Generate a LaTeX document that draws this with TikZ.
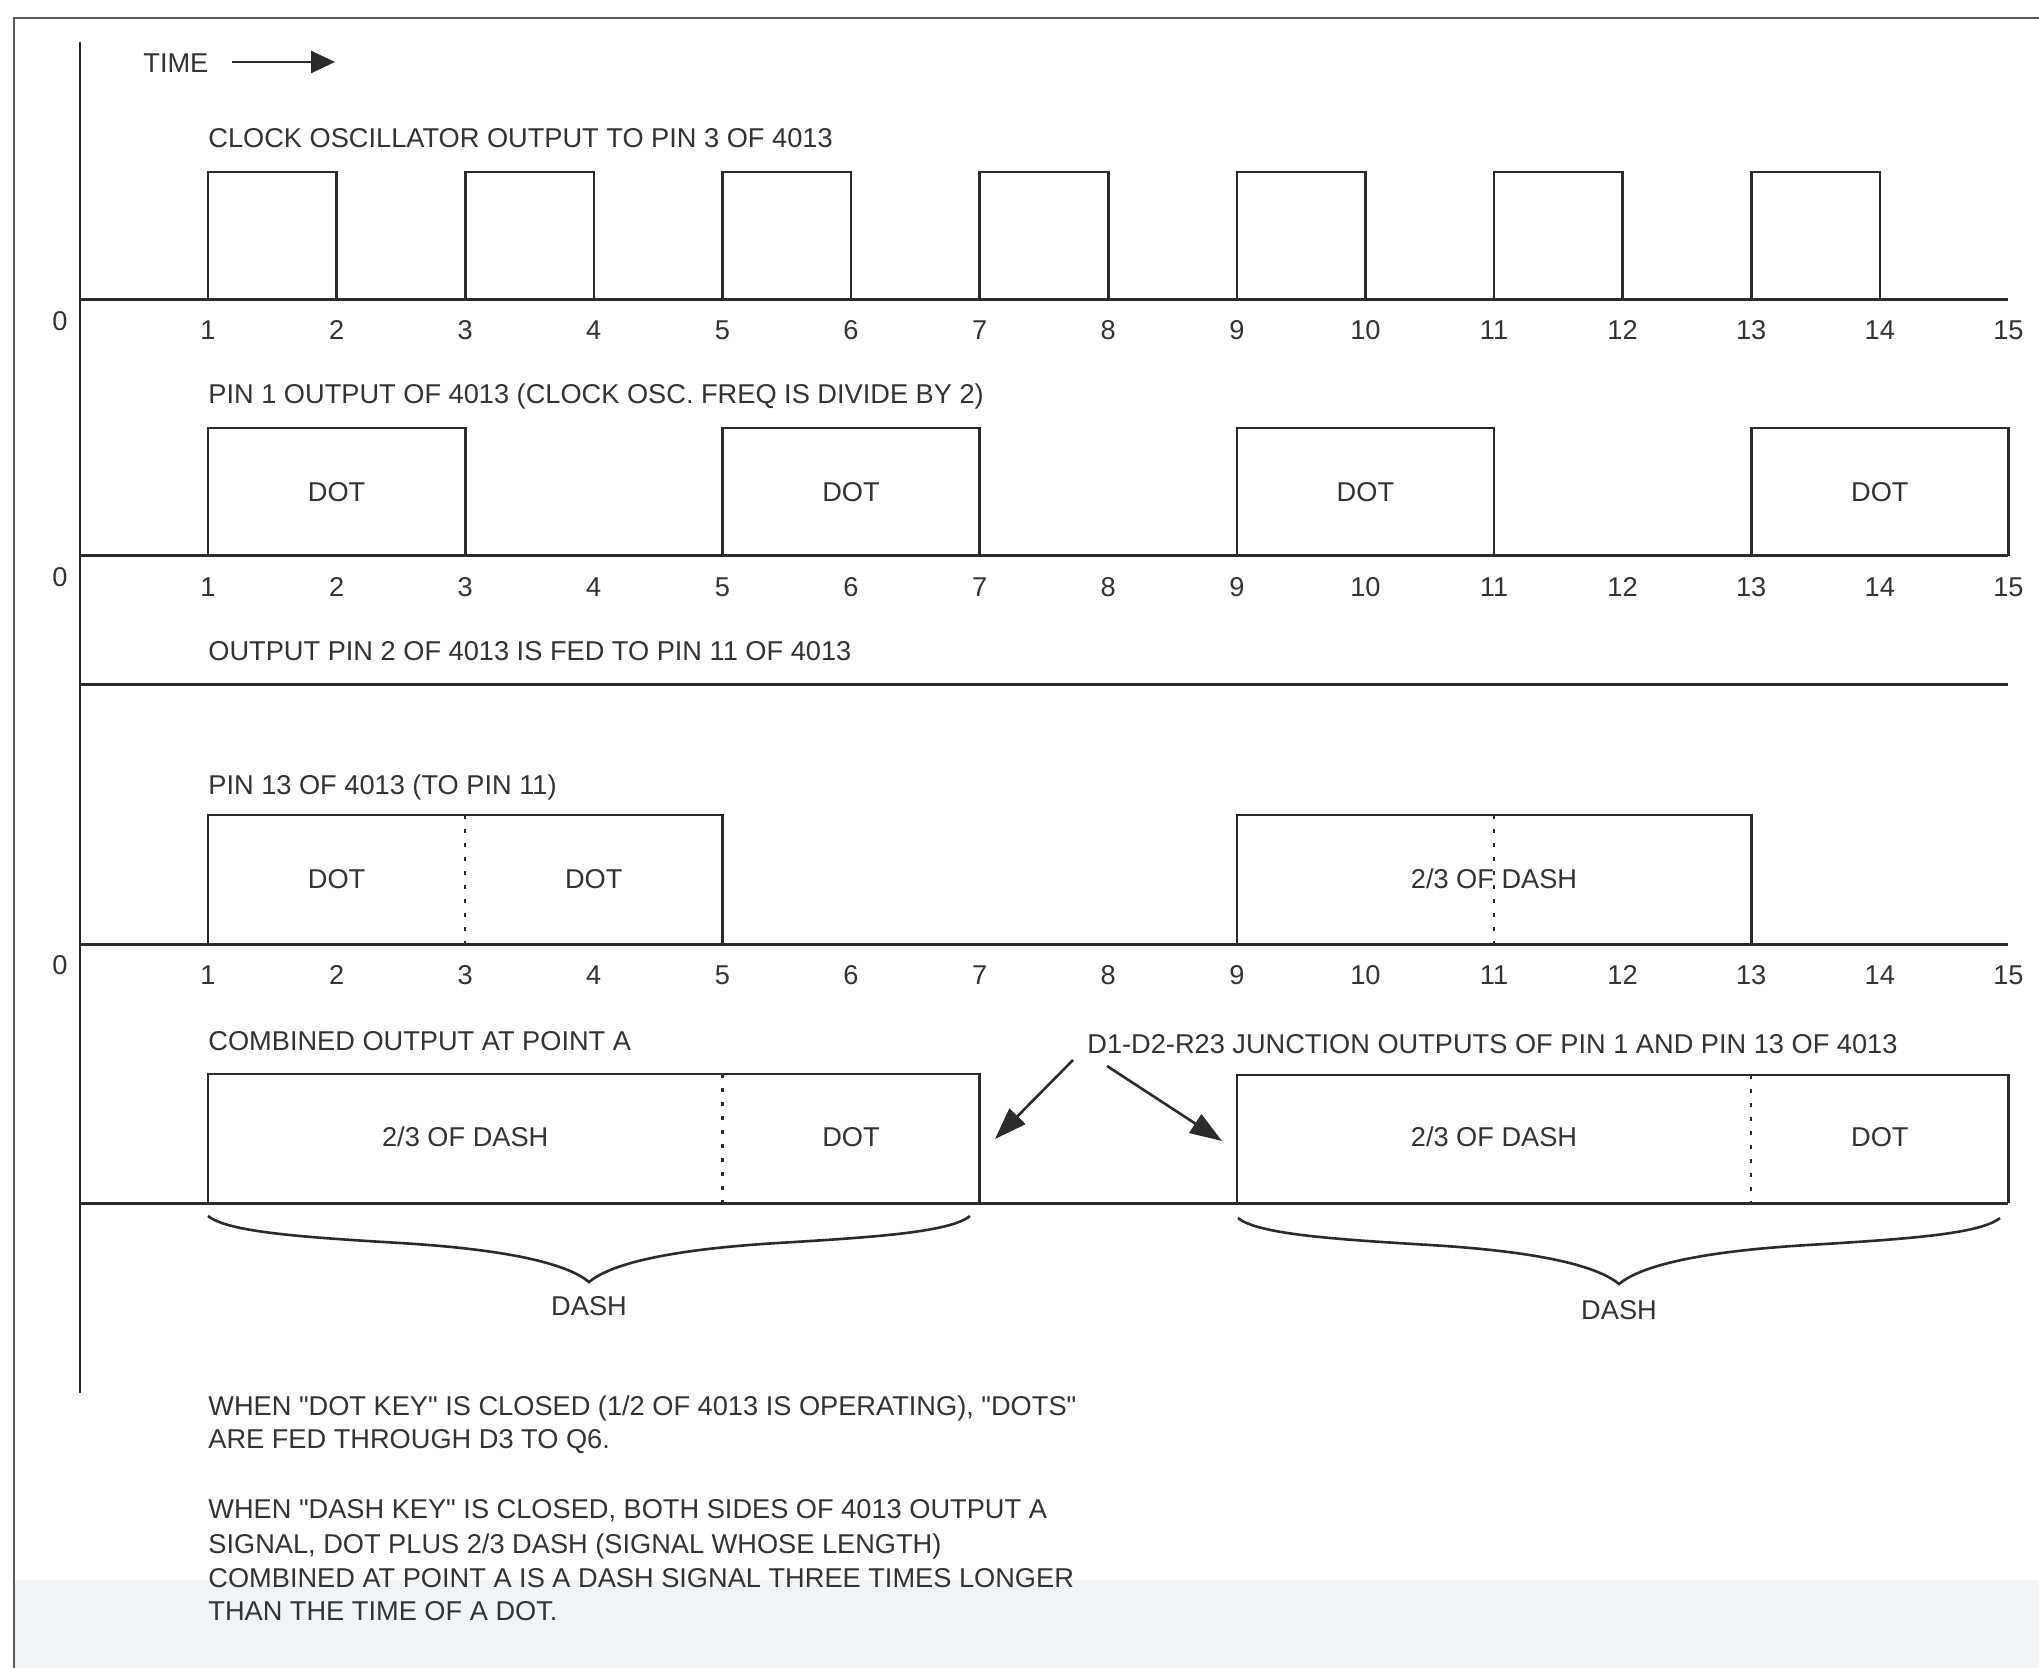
\documentclass[tikz,border=0pt]{standalone}
\usepackage{fontspec}
\setmainfont{Liberation Sans}
\usetikzlibrary{arrows.meta}
\definecolor{ink}{HTML}{2B2B2B}
\definecolor{txt}{HTML}{333333}
\definecolor{band}{HTML}{F0F4F8}
\newcommand\tpos[1]{{208+(#1-1)*128.6}}
\newcommand\sq{\XeTeXglyph\XeTeXcharglyph"22\relax}
\tikzset{
  sig/.style={draw=ink, line width=1.3pt, line join=miter},
  baseln/.style={draw=ink, line width=1.5pt},
  divider/.style={draw=ink, line width=1.1pt, dash pattern=on 2pt off 5pt},
  lbl/.style={text=txt, font=\fontsize{13.6}{16}\selectfont, inner sep=0pt},
  title/.style={lbl, anchor=base west},
  num/.style={lbl, anchor=center},
  pointer/.style={draw=ink, line width=1.3pt, -{Triangle[length=16pt,width=11pt]}},
  timearrow/.style={draw=ink, line width=1.3pt, -{Triangle[length=12pt,width=11pt]}},
  frameln/.style={draw=black!65, line width=1pt},
  bracestyle/.style={draw=ink, line width=1.3pt},
}
\begin{document}
\begin{tikzpicture}[x=0.5pt,y=-0.5pt]
\useasboundingbox (0,0) rectangle (2039,1668);
\fill[white] (0,0) rectangle (2039,1668);
\fill[band] (14,1580) rectangle (2039,1668);
% frame
\draw[frameln] (14,1668) -- (14,18) -- (2039,18);
% vertical axis
\draw[sig, line width=1.2pt] (80,42) -- (80,1393);

% TIME
\node[title] (time) at (143,73) {TIME};
\coordinate (timestart) at (232,62);
\coordinate (timeend) at (335,62);
\draw[timearrow] (timestart) -- (timeend);

% ---- Row 1 : clock
\node[title] (t1) at (208,148) {CLOCK OSCILLATOR OUTPUT TO PIN 3 OF 4013};
\draw[baseln] (80,300) -- (\tpos{15},300);
\foreach \k in {1,3,...,13}
  \draw[sig] (\tpos{\k},300) |- (\tpos{\k+1},172) -- (\tpos{\k+1},300);
\node[num] (z1) at (60,321) {0};
\foreach \k in {1,...,15}
  \node[num] (n1-\k) at (\tpos{\k},330) {\k};

% ---- Row 2 : pin 1
\node[title] (t2) at (208,404) {PIN 1 OUTPUT OF 4013 (CLOCK OSC. FREQ IS DIVIDE BY 2)};
\draw[baseln] (80,556) -- (\tpos{15},556);
\foreach \k in {1,5,9,13}{
  \draw[sig] (\tpos{\k},556) |- (\tpos{\k+2},428) -- (\tpos{\k+2},556);
  \node[num] (dot2-\k) at (\tpos{\k+1},492) {DOT};
}
\node[num] (z2) at (60,577) {0};
\foreach \k in {1,...,15}
  \node[num] (n2-\k) at (\tpos{\k},587) {\k};

% ---- Row 3 : pin 2
\node[title] (t3) at (208,660) {OUTPUT PIN 2 OF 4013 IS FED TO PIN 11 OF 4013};
\draw[baseln] (80,684) -- (\tpos{15},684);

% ---- Row 4 : pin 13
\node[title] (t4) at (208,794) {PIN 13 OF 4013 (TO PIN 11)};
\draw[baseln] (80,944) -- (\tpos{15},944);
\draw[sig] (\tpos{1},944) |- (\tpos{5},815) -- (\tpos{5},944);
\draw[divider] (\tpos{3},815) -- (\tpos{3},944);
\draw[sig] (\tpos{9},944) |- (\tpos{13},815) -- (\tpos{13},944);
\draw[divider] (\tpos{11},815) -- (\tpos{11},944);
\node[num] (d4a) at (\tpos{2},879) {DOT};
\node[num] (d4b) at (\tpos{4},879) {DOT};
\node[num] (d4c) at (\tpos{11},879) {2/3 OF DASH};
\node[num] (z4) at (60,965) {0};
\foreach \k in {1,...,15}
  \node[num] (n4-\k) at (\tpos{\k},975) {\k};

% ---- Row 5 : combined
\node[title] (t5) at (208,1050) {COMBINED OUTPUT AT POINT A};
\node[title] (junction) at (1087,1053) {D1-D2-R23 JUNCTION OUTPUTS OF PIN 1 AND PIN 13 OF 4013};
\draw[baseln] (80,1203) -- (\tpos{15},1203);
\draw[sig] (\tpos{1},1203) |- (\tpos{7},1074) -- (\tpos{7},1203);
\draw[divider] (\tpos{5},1074) -- (\tpos{5},1203);
\draw[sig] (\tpos{9},1203) |- (\tpos{15},1075) -- (\tpos{15},1203);
\draw[divider] (\tpos{13},1075) -- (\tpos{13},1203);
\node[num] (d5a) at (\tpos{3},1137) {2/3 OF DASH};
\node[num] (d5b) at (\tpos{6},1137) {DOT};
\node[num] (d5c) at (\tpos{11},1137) {2/3 OF DASH};
\node[num] (d5d) at (\tpos{14},1137) {DOT};

% pointers
\coordinate (jl) at (1073,1060);
\coordinate (jr) at (1107,1066);
\coordinate (tipL) at (995,1139);
\coordinate (tipR) at (1222,1141);
\draw[pointer] (jl) -- (tipL);
\draw[pointer] (jr) -- (tipR);

% braces
\draw[bracestyle] (208,1216) .. controls (228,1232) and (300,1237) .. (400,1243)
  .. controls (500,1249) and (565,1262) .. (589,1282)
  .. controls (613,1262) and (678,1249) .. (778,1243)
  .. controls (878,1237) and (950,1232) .. (970,1216);
\draw[bracestyle] (1238,1218) .. controls (1258,1234) and (1330,1239) .. (1430,1245)
  .. controls (1530,1251) and (1595,1264) .. (1619,1284)
  .. controls (1643,1264) and (1708,1251) .. (1808,1245)
  .. controls (1908,1239) and (1980,1234) .. (2000,1218);
\node[num] (dashL) at (589,1306) {DASH};
\node[num] (dashR) at (1619,1310) {DASH};

% notes
\node[title] (w1) at (208,1415) {WHEN \sq DOT KEY\sq{} IS CLOSED (1/2 OF 4013 IS OPERATING), \sq DOTS\sq};
\node[title] (w2) at (208,1448) {ARE FED THROUGH D3 TO Q6.};
\node[title] (w3) at (208,1518) {WHEN \sq DASH KEY\sq{} IS CLOSED, BOTH SIDES OF 4013 OUTPUT A};
\node[title] (w4) at (208,1553) {SIGNAL, DOT PLUS 2/3 DASH (SIGNAL WHOSE LENGTH)};
\node[title] (w5) at (208,1587) {COMBINED AT POINT A IS A DASH SIGNAL THREE TIMES LONGER};
\node[title] (w6) at (208,1620) {THAN THE TIME OF A DOT.};
\end{tikzpicture}
\end{document}
